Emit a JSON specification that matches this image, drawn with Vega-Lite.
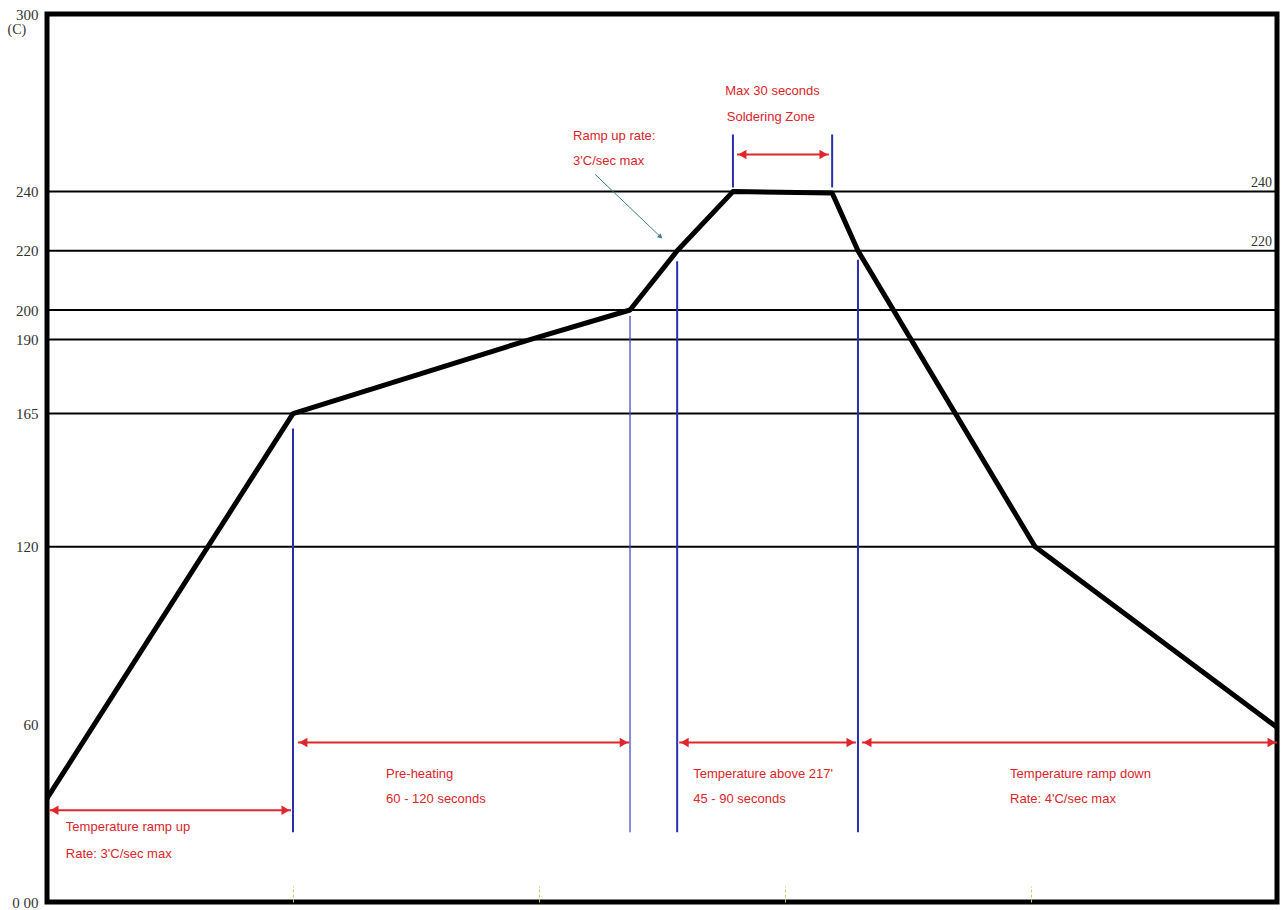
{
  "$schema": "https://vega.github.io/schema/vega-lite/v6.json",
  "width": 1230,
  "height": 888,
  "autosize": {"type": "none"},
  "padding": {"left": 47, "top": 14, "right": 4, "bottom": 8},
  "background": "white",
  "config": {"view": {"stroke": "black", "strokeWidth": 5}, "axis": {"grid": false}},
  "datasets": {
    "hlines": [{"temp": 120}, {"temp": 165}, {"temp": 190}, {"temp": 200}, {"temp": 220}, {"temp": 240}],
    "profile": [
      {"time": 0, "temp": 35},
      {"time": 60, "temp": 165},
      {"time": 117.8, "temp": 190},
      {"time": 142.2, "temp": 200},
      {"time": 153.7, "temp": 220},
      {"time": 167.3, "temp": 240},
      {"time": 191.5, "temp": 239.5},
      {"time": 197.8, "temp": 220},
      {"time": 241, "temp": 120},
      {"time": 300, "temp": 59}
    ],
    "vlines": [
      {"time": 60, "temp": 23.6, "hi": 160},
      {"time": 153.7, "temp": 23.6, "hi": 216.5},
      {"time": 197.8, "temp": 23.6, "hi": 217},
      {"time": 167.3, "temp": 241.4, "hi": 259.3},
      {"time": 191.5, "temp": 241.4, "hi": 259.3}
    ],
    "thinline": [{"time": 142.2, "temp": 23.6, "hi": 198}],
    "spans": [
      {"time": 0.5, "end": 59.5, "temp": 31},
      {"time": 61.2, "end": 142, "temp": 53.9},
      {"time": 154.2, "end": 197.3, "temp": 53.9},
      {"time": 198.8, "end": 300, "temp": 53.9},
      {"time": 168.3, "end": 190.7, "temp": 252.5}
    ],
    "heads": [
      {"time": 1.8, "temp": 31, "dir": "left"},
      {"time": 58.2, "temp": 31, "dir": "right"},
      {"time": 62.5, "temp": 53.9, "dir": "left"},
      {"time": 140.7, "temp": 53.9, "dir": "right"},
      {"time": 155.5, "temp": 53.9, "dir": "left"},
      {"time": 196, "temp": 53.9, "dir": "right"},
      {"time": 200.1, "temp": 53.9, "dir": "left"},
      {"time": 298.7, "temp": 53.9, "dir": "right"},
      {"time": 169.6, "temp": 252.5, "dir": "left"},
      {"time": 189.4, "temp": 252.5, "dir": "right"}
    ],
    "notes": [
      {"time": 4.6, "temp": 25.3, "text": "Temperature ramp up"},
      {"time": 4.6, "temp": 16.2, "text": "Rate: 3'C/sec max"},
      {"time": 82.7, "temp": 43.4, "text": "Pre-heating"},
      {"time": 82.7, "temp": 34.7, "text": "60 - 120 seconds"},
      {"time": 157.6, "temp": 43.4, "text": "Temperature above 217'"},
      {"time": 157.6, "temp": 34.7, "text": "45 - 90 seconds"},
      {"time": 234.9, "temp": 43.4, "text": "Temperature ramp down"},
      {"time": 234.9, "temp": 34.7, "text": "Rate: 4'C/sec max"},
      {"time": 165.4, "temp": 274, "text": "Max 30 seconds"},
      {"time": 165.8, "temp": 265.3, "text": "Soldering Zone"},
      {"time": 128.3, "temp": 258.9, "text": "Ramp up rate:"},
      {"time": 128.3, "temp": 250.5, "text": "3'C/sec max"}
    ],
    "rightlabels": [
      {"time": 300, "temp": 240, "text": "240"},
      {"time": 300, "temp": 220, "text": "220"}
    ],
    "pointer": [
      {"time": 133.7, "temp": 245.8},
      {"time": 149.5, "temp": 224.9}
    ],
    "pointerhead": [{"time": 149.5, "temp": 224.9}]
  },
  "layer": [
    {
      "data": {"name": "profile"},
      "mark": {"type": "line", "color": "black", "strokeWidth": 5, "strokeJoin": "round"},
      "encoding": {
        "x": {
          "field": "time", "type": "quantitative",
          "scale": {"domain": [0, 300], "nice": false, "zero": false},
          "axis": {"values": [60, 120, 180, 240], "labels": false, "domain": false, "ticks": true, "tickSize": -16, "tickColor": "#c2c96a", "tickWidth": 1, "tickDash": [3, 2], "title": null}
        },
        "y": {
          "field": "temp", "type": "quantitative",
          "scale": {"domain": [0, 300], "nice": false, "zero": false},
          "axis": {
            "values": [0, 60, 120, 165, 190, 200, 220, 240, 300],
            "labelExpr": "datum.value == 0 ? '0 00' : datum.label",
            "ticks": false, "domain": false, "labelPadding": 9,
            "labelFont": "Liberation Serif", "labelFontSize": 15, "labelColor": "#333333",
            "title": "(C)", "titleAngle": 0, "titleX": -40, "titleY": 15,
            "titleAlign": "left", "titleBaseline": "middle",
            "titleFont": "Liberation Serif", "titleFontSize": 14, "titleFontWeight": "normal", "titleColor": "#333333"
          }
        }
      }
    },
    {
      "data": {"name": "hlines"},
      "mark": {"type": "rule", "color": "black", "strokeWidth": 2},
      "encoding": {
        "y": {"field": "temp", "type": "quantitative"}
      }
    },
    {
      "data": {"name": "vlines"},
      "mark": {"type": "rule", "color": "#2a2fb0", "strokeWidth": 2},
      "encoding": {
        "x": {"field": "time", "type": "quantitative"},
        "y": {"field": "temp", "type": "quantitative"},
        "y2": {"field": "hi"}
      }
    },
    {
      "data": {"name": "thinline"},
      "mark": {"type": "rule", "color": "#4a4fc0", "strokeWidth": 1.3},
      "encoding": {
        "x": {"field": "time", "type": "quantitative"},
        "y": {"field": "temp", "type": "quantitative"},
        "y2": {"field": "hi"}
      }
    },
    {
      "data": {"name": "spans"},
      "mark": {"type": "rule", "color": "#e0262d", "strokeWidth": 2},
      "encoding": {
        "x": {"field": "time", "type": "quantitative"},
        "x2": {"field": "end"},
        "y": {"field": "temp", "type": "quantitative"}
      }
    },
    {
      "data": {"name": "heads"},
      "mark": {"type": "point", "filled": true, "color": "#e0262d", "size": 90, "opacity": 1},
      "encoding": {
        "x": {"field": "time", "type": "quantitative"},
        "y": {"field": "temp", "type": "quantitative"},
        "shape": {"field": "dir", "type": "nominal", "scale": {"domain": ["left", "right"], "range": ["triangle-left", "triangle-right"]}, "legend": null}
      }
    },
    {
      "data": {"name": "pointer"},
      "mark": {"type": "line", "color": "#3f7f86", "strokeWidth": 1},
      "encoding": {
        "x": {"field": "time", "type": "quantitative"},
        "y": {"field": "temp", "type": "quantitative"}
      }
    },
    {
      "data": {"name": "pointerhead"},
      "mark": {"type": "point", "shape": "triangle", "filled": true, "color": "#3f7f86", "size": 30, "angle": 134, "opacity": 1},
      "encoding": {
        "x": {"field": "time", "type": "quantitative"},
        "y": {"field": "temp", "type": "quantitative"}
      }
    },
    {
      "data": {"name": "notes"},
      "mark": {"type": "text", "align": "left", "baseline": "middle", "font": "Liberation Sans", "fontSize": 13, "color": "#d9262c"},
      "encoding": {
        "x": {"field": "time", "type": "quantitative"},
        "y": {"field": "temp", "type": "quantitative"},
        "text": {"field": "text"}
      }
    },
    {
      "data": {"name": "rightlabels"},
      "mark": {"type": "text", "align": "right", "baseline": "middle", "dx": -5, "dy": -9, "font": "Liberation Serif", "fontSize": 14, "color": "#333333"},
      "encoding": {
        "x": {"field": "time", "type": "quantitative"},
        "y": {"field": "temp", "type": "quantitative"},
        "text": {"field": "text"}
      }
    }
  ]
}
